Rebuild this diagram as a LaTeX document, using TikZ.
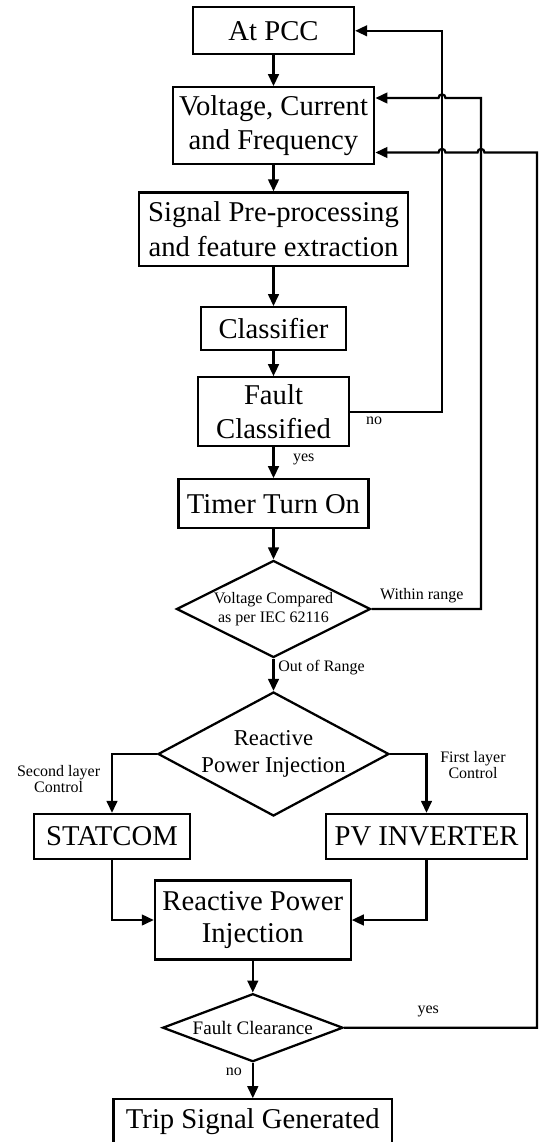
\documentclass[tikz,border=0pt]{standalone}
\usepackage{fontspec}
\setmainfont{Liberation Serif}
\usetikzlibrary{arrows.meta,shapes.geometric,calc}
\begin{document}
\begin{tikzpicture}[x=0.75pt,y=-0.75pt,line width=1.7pt,
  box/.style={draw,rectangle,inner sep=0pt,align=center,
    font=\fontsize{21.5}{26}\selectfont},
  sz/.style 2 args={minimum width=#1*0.75pt,minimum height=#2*0.75pt},
  dia/.style={draw,diamond,inner sep=0pt},
  dtext/.style={inner sep=0pt,align=center},
  lbl/.style={inner sep=0pt,align=center,font=\fontsize{12}{12.5}\selectfont},
  arr/.style={-{Triangle[length=9pt,width=8pt]}}]
\useasboundingbox[fill=white] (0,0) rectangle (540,1142);

% main column
\node[box,sz={161}{47}]     (pcc)  at (273.5,30.8)  {At PCC};
\node[box,sz={201.6}{77}]   (vcf)  at (273.5,125.8) {Voltage, Current\\and Frequency};
\node[box,sz={269}{73.5}]   (sig)  at (273.5,229.2) {Signal Pre-processing\\and feature extraction};
\node[box,sz={144.7}{42.7}] (cls)  at (273.5,328.6) {Classifier};
\node[box,sz={151.6}{68.7}] (flt)  at (273.5,411.7) {Fault\\Classified};
\node[box,sz={190}{49}]     (tmr)  at (273.5,503.8) {Timer Turn On};
\node[dia,sz={194}{97}]     (d1)   at (273.5,609)   {};
\node[dtext,font=\fontsize{12}{14.25}\selectfont] (d1t) at (d1.center)
  {Voltage Compared\\as per IEC 62116};
\node[dia,sz={231}{124}]    (d2)   at (273.5,754)   {};
\node[dtext,font=\fontsize{17}{20}\selectfont] (d2t) at (d2.center)
  {Reactive\\Power Injection};
\node[box,sz={156}{45}]     (stat) at (112,836.5)   {STATCOM};
\node[box,sz={201}{45}]     (pv)   at (426.5,836.5) {PV INVERTER};
\node[box,sz={195.7}{78.8},font=\fontsize{21.5}{24}\selectfont]
                            (rpi)  at (252.8,920)   {Reactive Power\\Injection};
\node[dia,sz={180.4}{68}]   (fc)   at (252.8,1027.7) {};
\node[dtext,font=\fontsize{14.3}{16}\selectfont] (fct) at (fc.center) {Fault Clearance};
\node[box,sz={278.4}{43.7}] (trip) at (252.8,1121.2) {Trip Signal Generated};

% feedback buses
\coordinate (busA) at (442,0);
\coordinate (busB) at (481,0);
\coordinate (busC) at (537,0);
\coordinate (vinA) at ($(vcf.east)+(0,-27.8)$);
\coordinate (vinB) at ($(vcf.east)+(0,26.7)$);

% forward flow
\draw[arr] (pcc) -- (vcf);
\draw[arr] (vcf) -- (sig);
\draw[arr] (sig) -- (cls);
\draw[arr] (cls) -- (flt);
\draw[arr] (flt) -- (tmr);
\draw[arr] (tmr) -- (d1);
\draw[arr] (d1) -- (d2);
\draw[arr] (d2.west) -| (stat);
\draw[arr] (d2.east) -| (pv);
\draw[arr] (stat) |- (rpi);
\draw[arr] (pv) |- (rpi);
\draw[arr] (rpi) -- (fc);
\draw[arr] (fc) -- (trip);

% loops back to the top
\draw[arr] (flt.east) -- (flt.east -| busA) -- (busA |- pcc.east) -- (pcc.east);
\draw[arr] (d1.east) -- (d1.east -| busB) -- (busB |- vinA)
  -- ($(busA |- vinA)+(3.5,0)$) .. controls +(0,-4.7) and +(0,-4.7) .. ($(busA |- vinA)+(-3.5,0)$)
  -- (vinA);
\draw[arr] (fc.east) -- (fc.east -| busC) -- (busC |- vinB)
  -- ($(busB |- vinB)+(3.5,0)$) .. controls +(0,-4.7) and +(0,-4.7) .. ($(busB |- vinB)+(-3.5,0)$)
  -- ($(busA |- vinB)+(3.5,0)$) .. controls +(0,-4.7) and +(0,-4.7) .. ($(busA |- vinB)+(-3.5,0)$)
  -- (vinB);

% branch labels
\node[lbl] (lno1)  at (374,421)     {no};
\node[lbl] (lyes1) at (303.8,459.5) {yes};
\node[lbl] (lwr)   at (421.7,596)   {Within range};
\node[lbl,anchor=west] (lor) at (277.3,667.5) {Out of Range};
\node[lbl] (lsl)   at (58.6,779)    {Second layer\\Control};
\node[lbl] (lfl)   at (473,765)     {First layer\\Control};
\node[lbl] (lyes2) at (428.3,1011)  {yes};
\node[lbl] (lno2)  at (233.8,1071.7) {no};
\end{tikzpicture}
\end{document}
